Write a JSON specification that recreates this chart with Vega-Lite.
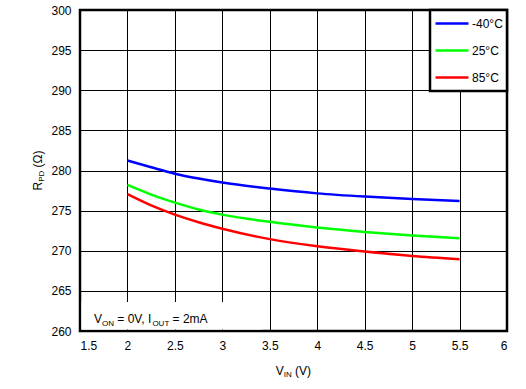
{
  "$schema": "https://vega.github.io/schema/vega-lite/v6.json",
  "width": 427,
  "height": 321,
  "autosize": {"type": "none"},
  "padding": {"left": 80, "top": 10, "right": 19, "bottom": 58},
  "config": {
    "font": "Liberation Sans",
    "view": {"stroke": "black", "strokeWidth": 2.5},
    "axis": {
      "grid": true, "gridColor": "black", "gridOpacity": 1, "gridWidth": 1,
      "domain": false, "ticks": false, "labelFontSize": 12, "labelColor": "black",
      "labelPadding": 9, "title": null, "labelFont": "Liberation Sans"
    },
    "legend": {
      "strokeColor": "black", "strokeWidth": 2.5, "fillColor": "white",
      "padding": 4, "symbolType": "stroke", "symbolSize": 1089, "symbolStrokeWidth": 2.5,
      "labelFontSize": 12, "labelColor": "black", "labelOffset": 2, "rowPadding": 8,
      "clipHeight": 19, "labelFont": "Liberation Sans"
    }
  },
  "datasets": {
    "curves": [
      {"vin": 2, "r": 281.25, "temp": "-40°C"},
      {"vin": 2.25, "r": 280.4, "temp": "-40°C"},
      {"vin": 2.5, "r": 279.6, "temp": "-40°C"},
      {"vin": 2.75, "r": 279.0, "temp": "-40°C"},
      {"vin": 3, "r": 278.5, "temp": "-40°C"},
      {"vin": 3.5, "r": 277.75, "temp": "-40°C"},
      {"vin": 4, "r": 277.15, "temp": "-40°C"},
      {"vin": 4.5, "r": 276.75, "temp": "-40°C"},
      {"vin": 5, "r": 276.45, "temp": "-40°C"},
      {"vin": 5.5, "r": 276.2, "temp": "-40°C"},
      {"vin": 2, "r": 278.2, "temp": "25°C"},
      {"vin": 2.25, "r": 277.0, "temp": "25°C"},
      {"vin": 2.5, "r": 276.0, "temp": "25°C"},
      {"vin": 2.75, "r": 275.15, "temp": "25°C"},
      {"vin": 3, "r": 274.5, "temp": "25°C"},
      {"vin": 3.5, "r": 273.6, "temp": "25°C"},
      {"vin": 4, "r": 272.9, "temp": "25°C"},
      {"vin": 4.5, "r": 272.35, "temp": "25°C"},
      {"vin": 5, "r": 271.9, "temp": "25°C"},
      {"vin": 5.5, "r": 271.55, "temp": "25°C"},
      {"vin": 2, "r": 277.05, "temp": "85°C"},
      {"vin": 2.25, "r": 275.65, "temp": "85°C"},
      {"vin": 2.5, "r": 274.5, "temp": "85°C"},
      {"vin": 2.75, "r": 273.55, "temp": "85°C"},
      {"vin": 3, "r": 272.75, "temp": "85°C"},
      {"vin": 3.5, "r": 271.45, "temp": "85°C"},
      {"vin": 4, "r": 270.55, "temp": "85°C"},
      {"vin": 4.5, "r": 269.9, "temp": "85°C"},
      {"vin": 5, "r": 269.35, "temp": "85°C"},
      {"vin": 5.5, "r": 268.95, "temp": "85°C"}
    ]
  },
  "layer": [
    {
      "data": {"name": "curves"},
      "mark": {"type": "line", "strokeWidth": 2.5, "interpolate": "monotone"},
      "encoding": {
        "x": {"field": "vin", "type": "quantitative",
              "scale": {"domain": [1.5, 6], "nice": false, "zero": false},
              "axis": {"values": [1.5, 2, 2.5, 3, 3.5, 4, 4.5, 5, 5.5, 6], "format": ".2~f"}},
        "y": {"field": "r", "type": "quantitative",
              "scale": {"domain": [260, 300], "nice": false, "zero": false},
              "axis": {"values": [260, 265, 270, 275, 280, 285, 290, 295, 300], "format": "d"}},
        "color": {"field": "temp", "type": "nominal",
                  "scale": {"domain": ["-40°C", "25°C", "85°C"], "range": ["#0000ff", "#00ff00", "#ff0000"]},
                  "legend": {"title": null, "orient": "top-right", "offset": 0}}
      }
    },
    {"data": {"values": [{"t": "box"}]}, "mark": {"type": "rect", "color": "white", "opacity": 1},
     "encoding": {"x": {"datum": 1.516}, "x2": {"datum": 3.42}, "y": {"datum": 260.18}, "y2": {"datum": 263.6}}},
    {"data": {"values": [{"t": "V"}]}, "mark": {"type": "text", "align": "left", "baseline": "alphabetic", "fontSize": 12, "dx": 14, "dy": -8, "color": "black"},
     "encoding": {"x": {"datum": 1.5}, "y": {"datum": 260}, "text": {"field": "t"}}},
    {"data": {"values": [{"t": "ON"}]}, "mark": {"type": "text", "align": "left", "baseline": "alphabetic", "fontSize": 8, "dx": 22, "dy": -5.5, "color": "black"},
     "encoding": {"x": {"datum": 1.5}, "y": {"datum": 260}, "text": {"field": "t"}}},
    {"data": {"values": [{"t": "= 0V, I"}]}, "mark": {"type": "text", "align": "left", "baseline": "alphabetic", "fontSize": 12, "dx": 37.3, "dy": -8, "color": "black"},
     "encoding": {"x": {"datum": 1.5}, "y": {"datum": 260}, "text": {"field": "t"}}},
    {"data": {"values": [{"t": "OUT"}]}, "mark": {"type": "text", "align": "left", "baseline": "alphabetic", "fontSize": 8, "dx": 72.4, "dy": -5.5, "color": "black"},
     "encoding": {"x": {"datum": 1.5}, "y": {"datum": 260}, "text": {"field": "t"}}},
    {"data": {"values": [{"t": "= 2mA"}]}, "mark": {"type": "text", "align": "left", "baseline": "alphabetic", "fontSize": 12, "dx": 92.6, "dy": -8, "color": "black"},
     "encoding": {"x": {"datum": 1.5}, "y": {"datum": 260}, "text": {"field": "t"}}},
    {"data": {"values": [{"t": "V"}]}, "mark": {"type": "text", "align": "left", "baseline": "alphabetic", "fontSize": 12, "dx": -17.7, "dy": 44, "color": "black"},
     "encoding": {"x": {"datum": 3.75}, "y": {"datum": 260}, "text": {"field": "t"}}},
    {"data": {"values": [{"t": "IN"}]}, "mark": {"type": "text", "align": "left", "baseline": "alphabetic", "fontSize": 8, "dx": -9.7, "dy": 46, "color": "black"},
     "encoding": {"x": {"datum": 3.75}, "y": {"datum": 260}, "text": {"field": "t"}}},
    {"data": {"values": [{"t": "(V)"}]}, "mark": {"type": "text", "align": "left", "baseline": "alphabetic", "fontSize": 12, "dx": 1.6, "dy": 44, "color": "black"},
     "encoding": {"x": {"datum": 3.75}, "y": {"datum": 260}, "text": {"field": "t"}}},
    {"data": {"values": [{"t": "R"}]}, "mark": {"type": "text", "align": "left", "baseline": "alphabetic", "fontSize": 12, "angle": 270, "dx": 0, "dy": -38, "color": "black"},
     "encoding": {"x": {"datum": 1.5}, "y": {"datum": 277.5}, "text": {"field": "t"}}},
    {"data": {"values": [{"t": "PD"}]}, "mark": {"type": "text", "align": "left", "baseline": "alphabetic", "fontSize": 8, "angle": 270, "dx": 8.7, "dy": -36, "color": "black"},
     "encoding": {"x": {"datum": 1.5}, "y": {"datum": 277.5}, "text": {"field": "t"}}},
    {"data": {"values": [{"t": "(Ω)"}]}, "mark": {"type": "text", "align": "left", "baseline": "alphabetic", "fontSize": 12, "angle": 270, "dx": 23.1, "dy": -38, "color": "black"},
     "encoding": {"x": {"datum": 1.5}, "y": {"datum": 277.5}, "text": {"field": "t"}}}
  ]
}
